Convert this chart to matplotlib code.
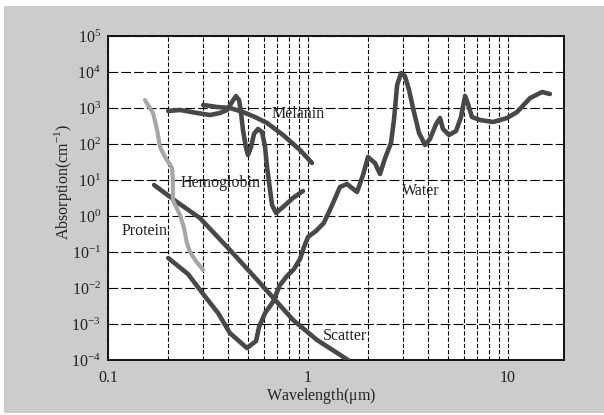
import matplotlib
matplotlib.use("Agg")
import matplotlib.pyplot as plt
from matplotlib.patches import Rectangle
from matplotlib.ticker import LogLocator, FixedLocator, FixedFormatter, NullLocator

plt.rcParams["font.family"] = ["Liberation Serif", "DejaVu Serif"]
plt.rcParams["mathtext.fontset"] = "custom"
plt.rcParams["mathtext.rm"] = "Liberation Serif"
plt.rcParams["lines.scale_dashes"] = False

# Data (wavelength in um, absorption in 1/cm)
protein_wl = [0.153, 0.168, 0.176, 0.182, 0.193, 0.209, 0.211, 0.211, 0.229, 0.240,
              0.248, 0.257, 0.275, 0.299]
protein_abs = [1668, 727, 245, 82.6, 43.5, 21.5, 10, 2.78, 1.07, 0.464,
               0.178, 0.1, 0.056, 0.0316]

hemo_wl = [0.2, 0.229, 0.279, 0.324, 0.363, 0.394, 0.417, 0.436, 0.452, 0.462,
           0.473, 0.49, 0.501, 0.519, 0.537, 0.562, 0.589, 0.61, 0.624, 0.646,
           0.661, 0.692, 0.75, 0.841, 0.944]
hemo_abs = [826, 880, 727, 639, 727, 880, 1468, 2150, 1668, 774,
            245, 77, 49.5, 82.6, 190, 261, 215, 82.6, 23, 5.27,
            2.02, 1.21, 1.78, 3.16, 4.95]

melanin_wl = [0.299, 0.351, 0.407, 0.473, 0.543, 0.624, 0.75, 0.912, 1.047]
melanin_abs = [1212, 1067, 1000, 774, 562, 383, 178, 68, 29.7]

scatter_wl = [0.17, 0.221, 0.288, 0.407, 0.575, 0.841, 1.109, 1.585]
scatter_abs = [7.27, 2.45, 0.88, 0.114, 0.0138, 0.0013, 3.6e-4, 1.0e-4]

water_wl = [0.2, 0.251, 0.313, 0.355, 0.407, 0.495, 0.55, 0.569, 0.61, 0.668,
            0.724, 0.785, 0.851, 0.912, 0.955, 1.0, 1.096, 1.2, 1.334, 1.445,
            1.567, 1.758, 1.884, 1.995, 2.16, 2.29, 2.43, 2.6, 2.69, 2.79,
            2.92, 3.05, 3.2, 3.35, 3.59, 3.85, 4.07, 4.37, 4.57, 4.73,
            5.07, 5.5, 5.82, 6.1, 6.31, 6.6, 7.24, 8.41, 9.89, 11.1,
            12.9, 14.8, 16.2]
water_abs = [0.068, 0.0245, 0.0049, 0.00202, 5.6e-4, 2.15e-4, 3.37e-4, 8.25e-4, 0.00202, 0.0041,
             0.0121, 0.0215, 0.0337, 0.064, 0.138, 0.261, 0.383, 0.64, 2.3, 6.4,
             7.74, 4.64, 13.8, 43.5, 29.7, 14.7, 40.8, 107, 464, 4350,
             9380, 7740, 3160, 1000, 202, 93.8, 138, 359, 527, 261,
             178, 230, 562, 2150, 1292, 562, 464, 408, 527, 774,
             1896, 2783, 2450]

x_ticks = [0.1, 1, 10]
x_ticklabels = ["0.1", "1", "10"]
y_ticks = [1e-4, 1e-3, 1e-2, 1e-1, 1e0, 1e1, 1e2, 1e3, 1e4, 1e5]
y_ticklabels = [r"$\mathdefault{10^{%d}}$" % e for e in range(-4, 6)]

labels = ["Melanin", "Hemoglobin", "Water", "Protein", "Scatter"]
label_pos = [(0.655, 700), (0.23, 8.5), (2.95, 5.0), (0.117, 0.38), (1.18, 4.5e-4)]

DARK = "#484848"
LIGHT = "#a6a6a6"
TXT = "#222222"

fig = plt.figure(figsize=(6.04, 4.15), dpi=100, facecolor="white")
fig.patches.append(Rectangle((4 / 604, 2 / 415), 600 / 604, 407 / 415,
                             transform=fig.transFigure, facecolor="#cccccc",
                             edgecolor="none", zorder=-5))
ax = fig.add_axes([108 / 604, 55 / 415, 456 / 604, 324 / 415])
ax.set_zorder(5)
ax.set_facecolor("white")
ax.set_xscale("log")
ax.set_yscale("log")
ax.set_xlim(0.1, 19.05)
ax.set_ylim(1e-4, 1e5)

kw = dict(color=DARK, lw=3.3, solid_capstyle="round", solid_joinstyle="round", zorder=3)
ax.plot(water_wl, water_abs, **kw)
ax.plot(scatter_wl, scatter_abs, **kw)
ax.plot(hemo_wl, hemo_abs, **kw)
ax.plot(melanin_wl, melanin_abs, **kw)
ax.plot(protein_wl, protein_abs, color=LIGHT, lw=3.0, solid_capstyle="round",
        solid_joinstyle="round", zorder=3)

for txt, (xv, yv) in zip(labels, label_pos):
    ax.text(xv, yv, txt, fontsize=11.5, color=TXT, va="center", ha="left", zorder=4)

ax.xaxis.set_major_locator(FixedLocator(x_ticks))
ax.xaxis.set_major_formatter(FixedFormatter(x_ticklabels))
ax.xaxis.set_minor_locator(LogLocator(base=10, subs=range(2, 10)))
ax.yaxis.set_major_locator(FixedLocator(y_ticks))
ax.yaxis.set_major_formatter(FixedFormatter(y_ticklabels))
ax.yaxis.set_minor_locator(NullLocator())
ax.tick_params(which="both", length=0, labelsize=11.5, labelcolor=TXT)
ax.tick_params(axis="x", pad=7)
ax.tick_params(axis="y", pad=5)

ax.grid(True, axis="x", which="both", color="black", lw=0.8, linestyle=(0, (3, 1.5)), zorder=1)
ax.grid(True, axis="y", which="major", color="black", lw=0.8, linestyle=(0, (7, 2.2)), zorder=1)
ax.set_axisbelow(True)
for s in ax.spines.values():
    s.set_linewidth(1.4)
    s.set_color("#111111")

fig.text(321 / 604, 1 - 396 / 415, r"Wavelength($\mathdefault{\mu}$m)", ha="center",
         va="center", fontsize=11.5, color=TXT)
fig.text(63 / 604, 1 - 182 / 415, r"Absorption(cm$^{\mathdefault{-1}}$)", ha="center",
         va="center", rotation=90, fontsize=11.5, color=TXT)

fig.savefig("out.png", dpi=100, facecolor=fig.get_facecolor())
